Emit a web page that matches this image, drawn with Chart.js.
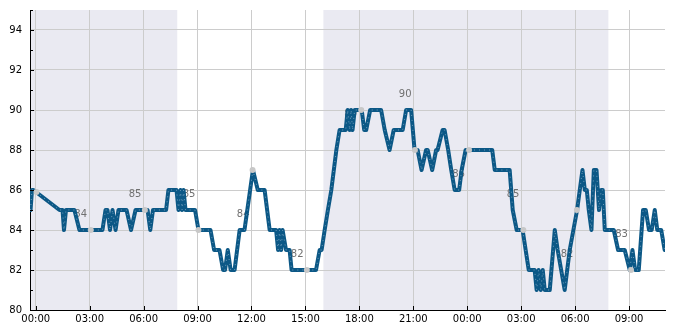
<!DOCTYPE html>
<html>
<head>
<meta charset="utf-8">
<script src="https://cdn.jsdelivr.net/npm/chart.js@4"></script>
<style>
  html, body { margin: 0; padding: 0; background: #fff; }
  #wrap { width: 685px; height: 330px; }
</style>
</head>
<body>
<div id="wrap"><canvas id="grafico"></canvas></div>
<script>
// Serie (horas desde 00:00 do primeiro dia)
const lineHours = [-0.29, -0.21, -0.13, 1.32, 1.49, 1.57, 1.68, 2.15, 2.43, 3.71, 3.88, 3.99, 4.13, 4.27, 4.44, 4.60,
    5.05, 5.30, 5.55, 6.22, 6.37, 6.52, 7.25, 7.38, 7.83, 7.94, 8.05, 8.14, 8.22, 8.33, 8.86, 9.05, 9.72, 9.92,
    10.22, 10.42, 10.53, 10.68, 10.84, 11.06, 11.34, 11.61, 12.08, 12.35, 12.73, 13.01, 13.37, 13.48, 13.56, 13.65,
    13.73, 13.92, 14.12, 14.23, 15.59, 15.79, 15.90, 16.07, 16.25, 16.44, 16.72, 16.90, 17.24, 17.35, 17.46, 17.54,
    17.62, 17.74, 18.13, 18.27, 18.38, 18.60, 19.21, 19.41, 19.68, 19.91, 20.41, 20.60, 20.88, 21.07, 21.24, 21.46,
    21.71, 21.80, 22.05, 22.27, 22.35, 22.63, 22.74, 22.94, 23.11, 23.30, 23.55, 23.69, 23.91, 25.39, 25.53, 26.36,
    26.53, 26.75, 27.08, 27.25, 27.42, 27.75, 27.86, 27.97, 28.09, 28.20, 28.31, 28.59, 28.87, 29.03, 29.42, 29.70,
    30.11, 30.26, 30.41, 30.54, 30.65, 30.76, 30.91, 31.04, 31.19, 31.33, 31.45, 31.54, 31.65, 32.15, 32.39, 32.76,
    33.04, 33.19, 33.34, 33.54, 33.78, 33.93, 34.11, 34.26, 34.43, 34.57, 34.79, 34.98];
const lineValues = [85, 86, 86, 85, 85, 84, 85, 85, 84, 84, 85, 85, 84, 85, 84, 85,
    85, 84, 85, 85, 84, 85, 85, 86, 86, 85, 86, 85, 86, 85, 85, 84, 84, 83,
    83, 82, 82, 83, 82, 82, 84, 84, 87, 86, 86, 84, 84, 83, 84, 83,
    84, 83, 83, 82, 82, 83, 83, 84, 85, 86, 88, 89, 89, 90, 89, 90,
    89, 90, 90, 89, 89, 90, 90, 89, 88, 89, 89, 90, 90, 88, 88, 87,
    88, 88, 87, 88, 88, 89, 89, 88, 87, 86, 86, 87, 88, 88, 87, 87,
    85, 84, 84, 83, 82, 82, 81, 82, 81, 82, 81, 81, 84, 83, 81, 83,
    85, 86, 87, 86, 86, 85, 84, 87, 87, 85, 86, 86, 84, 84, 83, 83,
    82, 83, 82, 82, 85, 85, 84, 84, 85, 84, 84, 83];

// Marcadores cinza a cada 3 horas
const markerHours = [0.04, 3.06, 6.07, 9.05, 12.06, 15.08, 18.10, 21.09, 24.10, 27.12, 30.10, 33.11];
const markerValues = [85.9, 84, 85, 84, 87, 82, 90, 88, 88, 84, 85, 82];

// Rotulos numericos
const labelHours = [2.5, 5.52, 8.53, 11.54, 14.54, 17.52, 20.55, 23.52, 26.55, 29.55, 32.58];
const labelValues = [84, 85, 85, 84, 82, 89, 90, 86, 85, 82, 83];

// Faixas noturnas
const nightStart = [-0.32, 16.0];
const nightEnd = [7.87, 31.85];

// Eixos
const xTicks = [0, 3, 6, 9, 12, 15, 18, 21, 24, 27, 30, 33];
const xTickLabels = ['00:00', '03:00', '06:00', '09:00', '12:00', '15:00', '18:00', '21:00', '00:00', '03:00', '06:00', '09:00'];
const yTicks = [80, 82, 84, 86, 88, 90, 92, 94];

const FONT = 'DejaVu Sans';

const fundo = {
    id: 'fundo',
    beforeDraw(chart) {
        const { ctx, chartArea: a, scales: { x } } = chart;
        ctx.save();
        ctx.fillStyle = '#eaeaf2';
        nightStart.forEach((s, i) => {
            const x0 = Math.max(x.getPixelForValue(s), a.left);
            const x1 = Math.min(x.getPixelForValue(nightEnd[i]), a.right);
            ctx.fillRect(x0, a.top, x1 - x0, a.bottom - a.top);
        });
        ctx.restore();
    },
    beforeDatasetsDraw(chart) {
        const { ctx, scales: { x, y } } = chart;
        ctx.save();
        ctx.font = '10px "' + FONT + '"';
        ctx.fillStyle = '#707070';
        ctx.textAlign = 'center';
        ctx.textBaseline = 'middle';
        labelHours.forEach((h, i) => {
            ctx.fillText(String(labelValues[i]), x.getPixelForValue(h), y.getPixelForValue(labelValues[i]) - 16);
        });
        ctx.restore();
    },
    afterDraw(chart) {
        const { ctx, chartArea: a, scales: { x, y } } = chart;
        ctx.save();
        ctx.strokeStyle = '#000';
        ctx.lineWidth = 1;
        ctx.beginPath();
        for (let v = 81; v <= 95; v++) {
            const py = Math.round(y.getPixelForValue(v)) + 0.5;
            ctx.moveTo(a.left, py);
            ctx.lineTo(a.left + (v % 2 === 0 ? 4 : 3), py);
        }
        xTicks.forEach(t => {
            const px = Math.round(x.getPixelForValue(t)) + 0.5;
            ctx.moveTo(px, a.bottom);
            ctx.lineTo(px, a.bottom - 4);
        });
        ctx.stroke();
        ctx.restore();
    }
};

new Chart(document.getElementById('grafico'), {
    type: 'line',
    data: {
        datasets: [
            {
                data: markerHours.map((h, i) => ({ x: h, y: markerValues[i] })),
                showLine: false,
                pointRadius: 3,
                pointBackgroundColor: '#c8c8c8',
                pointBorderWidth: 0,
                order: 0
            },
            {
                data: lineHours.map((h, i) => ({ x: h, y: lineValues[i] })),
                borderColor: 'rgba(190, 210, 228, 0.55)',
                borderWidth: 1,
                borderDash: [1, 4],
                pointRadius: 0,
                tension: 0,
                order: 1
            },
            {
                data: lineHours.map((h, i) => ({ x: h, y: lineValues[i] })),
                borderColor: '#0c5886',
                borderWidth: 4,
                borderJoinStyle: 'round',
                borderCapStyle: 'round',
                pointRadius: 0,
                tension: 0,
                order: 2
            }
        ]
    },
    options: {
        responsive: true,
        maintainAspectRatio: false,
        animation: false,
        events: [],
        layout: { padding: { top: 10, right: 20, left: 0, bottom: 0 } },
        plugins: {
            legend: { display: false },
            tooltip: { enabled: false }
        },
        scales: {
            x: {
                type: 'linear',
                min: -0.32,
                max: 35,
                afterFit(scale) {
                    scale.height = 20;
                    scale.paddingLeft = 0;
                    scale.paddingRight = 0;
                },
                afterBuildTicks(scale) { scale.ticks = xTicks.map(v => ({ value: v })); },
                grid: { color: '#cccccc', drawTicks: false },
                border: { color: '#000', width: 1 },
                ticks: {
                    padding: 3,
                    color: '#000',
                    font: { family: FONT, size: 10 },
                    maxRotation: 0,
                    autoSkip: false,
                    callback: (v, i) => xTickLabels[i]
                }
            },
            y: {
                min: 80,
                max: 95,
                afterFit(scale) {
                    scale.width = 30;
                    scale.paddingTop = 0;
                    scale.paddingBottom = 0;
                },
                afterBuildTicks(scale) { scale.ticks = yTicks.map(v => ({ value: v })); },
                grid: { color: '#cccccc', drawTicks: false },
                border: { color: '#000', width: 1 },
                ticks: {
                    padding: 8,
                    color: '#000',
                    font: { family: FONT, size: 10 },
                    callback: v => String(v)
                }
            }
        }
    },
    plugins: [fundo]
});
</script>
</body>
</html>
